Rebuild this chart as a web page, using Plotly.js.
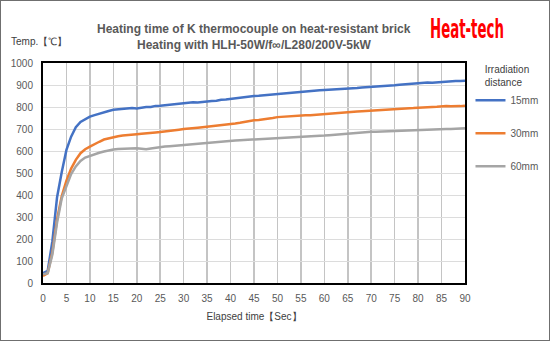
<!DOCTYPE html>
<html>
<head>
<meta charset="utf-8">
<script src="https://cdn.plot.ly/plotly-3.0.1.min.js"></script>
<style>
html,body{margin:0;padding:0;background:#fff;}
#wrap{position:relative;width:550px;height:341px;overflow:hidden;}
#chart{width:550px;height:341px;}
#frame{position:absolute;left:0;top:0;width:548px;height:339px;border:1px solid #6f6f6f;pointer-events:none;}
#brand{position:absolute;left:430px;top:15px;font-family:'Liberation Sans Narrow','DejaVu Sans Condensed','DejaVu Sans',sans-serif;font-weight:bold;font-size:25px;line-height:25px;color:#FF0000;white-space:nowrap;transform-origin:0 0;}
</style>
</head>
<body>
<div id="wrap"><div id="chart"></div><div id="brand"></div><div id="frame"></div></div>
<script>
const seconds = [];
for (let i = 0; i <= 90; i++) seconds.push(i);

const series15mm = [45,55,190,390,505,605,665,708,732,746,756,763,770,777,782,787,789,792,792,795,793,797,800,800,805,806,808,810,812,815,818,821,822,821,824,826,827,828,833,834,837,840,843,845,848,850,851,853,855,857,860,863,864,866,867,869,871,873,875,876,877,878,880,881,882,883,884,886,889,890,892,894,896,897,898,899,901,903,905,907,909,911,911,910,912,914,913,916,918,918,919];
const series30mm = [32,45,140,290,395,465,520,560,590,608,620,632,642,652,658,664,667,670,673,676,676,678,681,683,684,686,688,690,694,697,700,701,703,706,708,710,713,716,718,720,722,725,728,733,737,740,741,743,745,750,754,756,758,758,760,762,763,763,765,766,768,770,772,774,777,779,780,780,781,782,784,785,786,787,788,788,789,790,792,795,797,797,799,800,801,803,804,803,802,804,806];
const series60mm = [40,45,130,275,385,445,495,530,555,570,578,585,592,598,603,607,609,610,611,612,612,610,608,611,615,618,620,622,624,626,629,630,632,634,636,637,639,640,642,644,646,648,649,650,652,654,655,656,657,658,660,661,662,663,664,665,666,667,668,669,670,672,674,676,678,679,680,681,683,685,687,688,689,690,691,692,693,694,695,695,696,697,697,698,699,700,700,700,701,702,703];

const seriesNames = ['15mm','30mm','60mm'];
const seriesColors = ['#4472C4','#ED7D31','#A5A5A5'];
const xTicks = [0,5,10,15,20,25,30,35,40,45,50,55,60,65,70,75,80,85,90];
const yTicks = [0,100,200,300,400,500,600,700,800,900,1000];

const titleLine1 = 'Heating time of K thermocouple on heat-resistant brick';
const titleLine2 = 'Heating with HLH-50W/f\u221E/L280/200V-5kW';
const yTitle = 'Temp.\u3010\u2103\u3011';
const xTitle = 'Elapsed time\u3010Sec\u3011';
const brand = 'Heat-tech';
const legendTitle = 'Irradiation<br>distance';

const allSeries = [series15mm, series30mm, series60mm];
const traces = allSeries.map((ys, i) => ({
  x: seconds, y: ys, type: 'scatter', mode: 'lines',
  name: seriesNames[i], legendgroup: 'g' + i,
  line: {color: seriesColors[i], width: 2.5, shape: 'linear'}
}));

const font = 'Liberation Sans, Arial, sans-serif';
const layout = {
  width: 550, height: 341,
  margin: {l: 43, r: 85, t: 63, b: 58, autoexpand: false},
  paper_bgcolor: '#fff', plot_bgcolor: '#fff',
  font: {family: font, size: 10, color: '#595959'},
  showlegend: true,
  legend: {
    x: 1.013, xanchor: 'left', y: 1.015, yanchor: 'top',
    traceorder: 'grouped', tracegroupgap: 14,
    font: {size: 10, color: '#595959'},
    title: {text: legendTitle, side: 'top center', font: {size: 10, color: '#404040'}},
    bgcolor: 'rgba(0,0,0,0)', itemwidth: 30
  },
  xaxis: {
    range: [0, 90], tickvals: xTicks, ticktext: xTicks.map(String),
    showgrid: true, gridcolor: '#c4c4c4', gridwidth: 1.5,
    showline: true, mirror: true, linecolor: '#000', linewidth: 2,
    ticks: '', zeroline: false, tickfont: {size: 10, color: '#595959'},
    ticklabelstandoff: 5, automargin: false,
    title: {text: xTitle, font: {size: 10, color: '#404040'}, standoff: 10}
  },
  yaxis: {
    range: [0, 1000], tickvals: yTicks, ticktext: yTicks.map(String),
    showgrid: true, gridcolor: '#dcdcdc', gridwidth: 1,
    showline: true, mirror: true, linecolor: '#000', linewidth: 2,
    ticks: '', zeroline: false, tickfont: {size: 10, color: '#595959'},
    ticklabelstandoff: 6, automargin: false
  },
  annotations: [
    {text: titleLine1, xref: 'paper', yref: 'paper', x: 0.5, y: 1.0, xanchor: 'center', yanchor: 'bottom',
     yshift: 25, showarrow: false, font: {family: font, size: 12, color: '#595959', weight: 'bold'}},
    {text: titleLine2, xref: 'paper', yref: 'paper', x: 0.5, y: 1.0, xanchor: 'center', yanchor: 'bottom',
     yshift: 9, showarrow: false, font: {family: font, size: 12, color: '#595959', weight: 'bold'}},
    {text: yTitle, xref: 'paper', yref: 'paper', x: 0, y: 1.0, xanchor: 'left', yanchor: 'bottom',
     xshift: -34, yshift: 14, showarrow: false, font: {family: font, size: 10, color: '#404040'}}
  ]
};

Plotly.newPlot('chart', traces, layout, {displayModeBar: false, staticPlot: true}).then(() => {
  const b = document.getElementById('brand');
  b.textContent = brand;
  const r = b.getBoundingClientRect();
  const sx = 74 / r.width;
  b.style.transform = 'scale(' + sx.toFixed(3) + ',1.08)';
});
</script>
</body>
</html>
